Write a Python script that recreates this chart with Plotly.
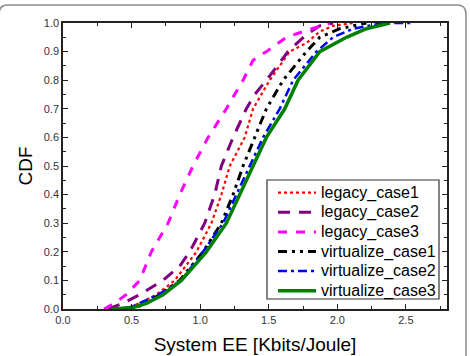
import plotly.graph_objects as go

# ---- data ----
cdf_levels_l3 = [0.0, 0.025, 0.05, 0.1, 0.2, 0.3, 0.4, 0.5, 0.6, 0.7, 0.8, 0.87, 0.9, 0.95, 0.97, 1.0]
ee_l3 = [0.30, 0.39, 0.46, 0.56, 0.644, 0.766, 0.851, 0.948, 1.058, 1.191, 1.313, 1.386, 1.483, 1.629, 1.751, 1.945]

cdf_levels_l2 = [0.0, 0.02, 0.05, 0.1, 0.15, 0.2, 0.3, 0.4, 0.5, 0.6, 0.7, 0.75, 0.8, 0.9, 0.96, 0.99, 1.0]
ee_l2 = [0.33, 0.438, 0.559, 0.729, 0.851, 0.924, 1.033, 1.106, 1.155, 1.240, 1.337, 1.398, 1.483, 1.641, 1.775, 1.872, 1.969]

cdf_levels_l1 = [0.0, 0.02, 0.05, 0.1, 0.2, 0.3, 0.4, 0.5, 0.6, 0.7, 0.8, 0.9, 0.93, 0.97, 0.99, 1.0]
ee_l1 = [0.45, 0.559, 0.681, 0.815, 0.973, 1.082, 1.155, 1.216, 1.325, 1.386, 1.507, 1.653, 1.775, 1.872, 1.969, 2.115]

cdf_levels_v1 = [0.0, 0.01, 0.05, 0.1, 0.2, 0.3, 0.4, 0.5, 0.6, 0.7, 0.8, 0.9, 0.95, 0.98, 1.0]
ee_v1 = [0.45, 0.559, 0.705, 0.851, 1.021, 1.155, 1.240, 1.313, 1.398, 1.483, 1.605, 1.775, 1.872, 2.018, 2.212]

cdf_levels_v2 = [0.0, 0.01, 0.05, 0.1, 0.2, 0.3, 0.4, 0.5, 0.6, 0.65, 0.7, 0.8, 0.9, 0.95, 0.98, 1.0, 1.0]
ee_v2 = [0.42, 0.511, 0.693, 0.863, 1.021, 1.167, 1.264, 1.362, 1.459, 1.520, 1.580, 1.678, 1.848, 1.969, 2.115, 2.334, 2.553]

cdf_levels_v3 = [0.0, 0.005, 0.02, 0.05, 0.1, 0.2, 0.3, 0.4, 0.5, 0.6, 0.7, 0.8, 0.9, 0.95, 0.98, 1.0]
ee_v3 = [0.36, 0.511, 0.608, 0.729, 0.863, 1.045, 1.191, 1.289, 1.386, 1.483, 1.617, 1.714, 1.872, 2.067, 2.212, 2.383]

series_names = ["legacy_case1", "legacy_case2", "legacy_case3",
                "virtualize_case1", "virtualize_case2", "virtualize_case3"]

x_tick_vals = [0.0, 0.5, 1.0, 1.5, 2.0, 2.5]
x_tick_text = ["0.0", "0.5", "1.0", "1.5", "2.0", "2.5"]
y_tick_vals = [0.0, 0.1, 0.2, 0.3, 0.4, 0.5, 0.6, 0.7, 0.8, 0.9, 1.0]
y_tick_text = ["0.0", "0.1", "0.2", "0.3", "0.4", "0.5", "0.6", "0.7", "0.8", "0.9", "1.0"]

# ---- styles ----
series_data = [(ee_l1, cdf_levels_l1), (ee_l2, cdf_levels_l2), (ee_l3, cdf_levels_l3),
               (ee_v1, cdf_levels_v1), (ee_v2, cdf_levels_v2), (ee_v3, cdf_levels_v3)]
styles = [
    ("#ff0000", "dot", 2.2),
    ("#800080", "12px,9px", 3),
    ("#ff00ff", "dash", 3),
    ("#000000", "9px,5px,3px,5px,3px,5px", 3),
    ("#0000ff", "9px,4px,3px,4px", 2.5),
    ("#008000", "solid", 3.5),
]

fig = go.Figure()
for name, (xs, ys), (color, dash, w) in zip(series_names, series_data, styles):
    fig.add_trace(go.Scatter(x=xs, y=ys, mode="lines", name=name, showlegend=False,
                             line=dict(color=color, dash=dash, width=w)))

W, H = 470, 356
L, R, T, B = 63, 447, 23, 309

def px2paper_x(px):
    return (px - L) / (R - L)

def px2paper_y(py):
    return (B - py) / (B - T)

shapes = []
annotations = []

# rounded outer frame (decoration)
x0, x1, y0, y1, r = -1, 466, 5, 370, 9
path = (f"M {px2paper_x(x0)},{px2paper_y(y0 + r)} "
        f"Q {px2paper_x(x0)},{px2paper_y(y0)} {px2paper_x(x0 + r)},{px2paper_y(y0)} "
        f"L {px2paper_x(x1 - r)},{px2paper_y(y0)} "
        f"Q {px2paper_x(x1)},{px2paper_y(y0)} {px2paper_x(x1)},{px2paper_y(y0 + r)} "
        f"L {px2paper_x(x1)},{px2paper_y(y1)}")
shapes.append(dict(type="path", xref="paper", yref="paper", path=path,
                   line=dict(color="#8c8c8c", width=1.5)))

# legend box (drawn as decoration so item spacing matches the reference)
LX0, LX1, LY0, LY1 = 267, 439, 180, 299
shapes.append(dict(type="rect", xref="paper", yref="paper",
                   x0=px2paper_x(LX0), x1=px2paper_x(LX1),
                   y0=px2paper_y(LY1), y1=px2paper_y(LY0),
                   fillcolor="white", line=dict(color="#333333", width=1.2)))
row_h = 19.6
first_y = 192.7
for i, (name, (color, dash, w)) in enumerate(zip(series_names, styles)):
    yc = first_y + i * row_h
    shapes.append(dict(type="line", xref="paper", yref="paper",
                       x0=px2paper_x(278), x1=px2paper_x(316),
                       y0=px2paper_y(yc), y1=px2paper_y(yc),
                       line=dict(color=color, dash=dash, width=w)))
    annotations.append(dict(xref="paper", yref="paper", x=px2paper_x(319), y=px2paper_y(yc),
                            xanchor="left", yanchor="middle", showarrow=False,
                            text=name, font=dict(size=16, color="#000000")))

fig.update_layout(
    width=W, height=H,
    margin=dict(l=L, r=W - R, t=T, b=H - B, autoexpand=False),
    paper_bgcolor="white", plot_bgcolor="white",
    font=dict(family="Liberation Sans, Arial, sans-serif", color="#000000"),
    showlegend=False,
    shapes=shapes,
    annotations=annotations,
)

fig.update_xaxes(range=[0, 2.8], tickvals=x_tick_vals, ticktext=x_tick_text,
                 ticks="inside", ticklen=5, tickwidth=1.2, tickcolor="#222",
                 minor=dict(dtick=0.25, ticks="inside", ticklen=3, tickcolor="#222", tickwidth=1.2),
                 showline=True, linecolor="#222", linewidth=1.5, mirror="allticks",
                 showgrid=False, zeroline=False, automargin=False,
                 tickfont=dict(size=11, color="#333333"),
                 title=dict(text="System EE [Kbits/Joule]", font=dict(size=19), standoff=13))
fig.update_yaxes(range=[0, 1.0], tickvals=y_tick_vals, ticktext=y_tick_text,
                 ticks="inside", ticklen=5, tickwidth=1.2, tickcolor="#222",
                 minor=dict(dtick=0.05, ticks="inside", ticklen=3, tickcolor="#222", tickwidth=1.2),
                 showline=True, linecolor="#222", linewidth=1.5, mirror="allticks",
                 showgrid=False, zeroline=False, automargin=False,
                 tickfont=dict(size=11, color="#333333"),
                 title=dict(text="CDF", font=dict(size=19), standoff=6))

fig.write_html("out.html")
